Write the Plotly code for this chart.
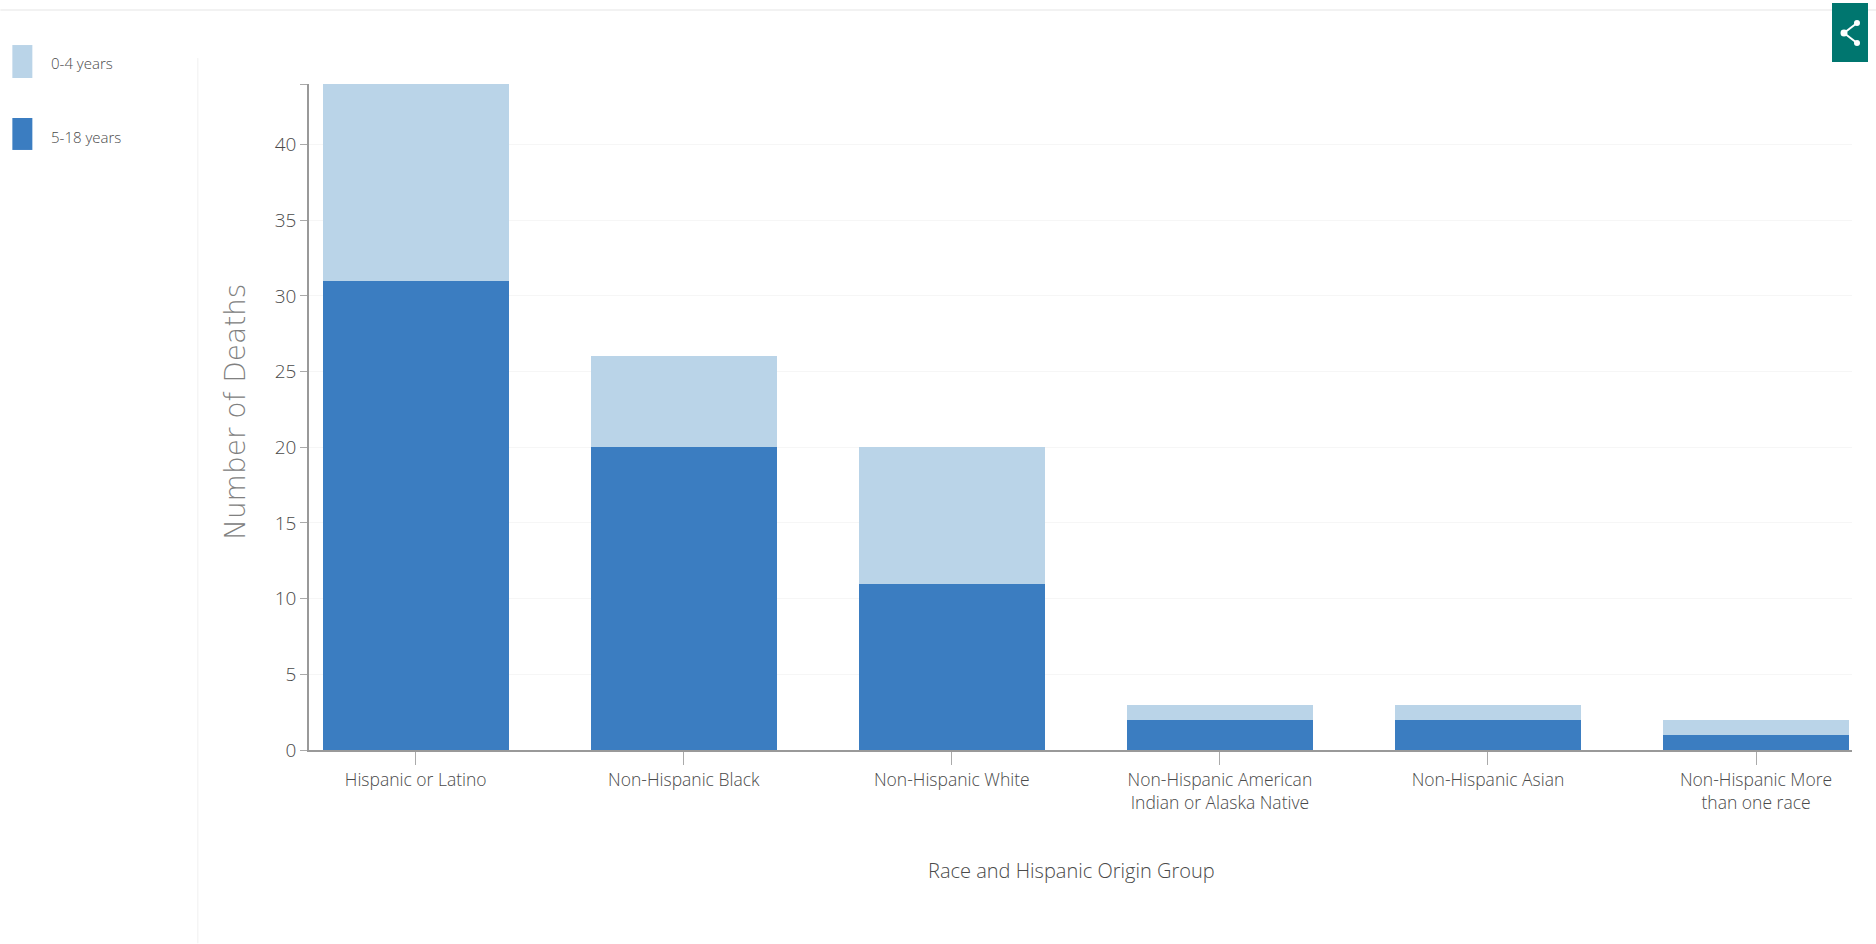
import plotly.graph_objects as go

categories = ["Hispanic or Latino", "Non-Hispanic Black", "Non-Hispanic White",
              "Non-Hispanic American<br>Indian or Alaska Native", "Non-Hispanic Asian",
              "Non-Hispanic More<br>than one race"]
age_0_4 = [13, 6, 9, 1, 1, 1]
age_5_18 = [31, 20, 11, 2, 2, 1]
y_ticks = [0, 5, 10, 15, 20, 25, 30, 35, 40, 44]
y_labels = ["0", "5", "10", "15", "20", "25", "30", "35", "40", ""]
series_names = ["0-4 years", "5-18 years"]
series_colors = ["#BAD4E8", "#3B7DC1"]

W, H = 1876, 944
L, R, T, B = 308.7, 1852, 84, 750.5
FONT = "Open Sans, sans-serif"
TXT = "#4A4A4A"

def px(x):
    return (x - L) / (R - L)

def py(y):
    return (B - y) / (B - T)

def rect(x0, y0, x1, y1, color):
    return dict(type="rect", xref="paper", yref="paper", x0=px(x0), x1=px(x1), y0=py(y0), y1=py(y1),
                fillcolor=color, line_width=0, layer="above")

def seg(x0, y0, x1, y1, color, w=1):
    return dict(type="line", xref="paper", yref="paper", x0=px(x0), x1=px(x1), y0=py(y0), y1=py(y1),
                line=dict(color=color, width=w), layer="above")

def dot(cx, cy, r, color):
    return dict(type="circle", xref="paper", yref="paper", x0=px(cx - r), x1=px(cx + r), y0=py(cy - r), y1=py(cy + r),
                fillcolor=color, line_width=0, layer="above")

fig = go.Figure()
fig.add_bar(x=categories, y=age_5_18, name=series_names[1], marker=dict(color=series_colors[1], line_width=0))
fig.add_bar(x=categories, y=age_0_4, name=series_names[0], marker=dict(color=series_colors[0], line_width=0))

shapes = [
    seg(0, 10, W, 10, "#EEEEEE", 1.5),
    seg(197.5, 58, 197.5, H, "#F0F0F0", 1),
    rect(12, 45, 32, 78, series_colors[0]),
    rect(12, 118, 32, 150, series_colors[1]),
    rect(1832, 3, 1868, 62, "#00766F"),
    seg(1857, 23, 1844, 33, "#FFFFFF", 2),
    seg(1844, 33, 1857, 43, "#FFFFFF", 2),
    dot(1857, 23, 3, "#FFFFFF"),
    dot(1844, 33, 3.5, "#FFFFFF"),
    dot(1857, 43, 3, "#FFFFFF"),
]
annotations = [
    dict(text=series_names[0], xref="paper", yref="paper", x=px(49), y=py(63), xanchor="left", yanchor="middle",
         showarrow=False, font=dict(family=FONT, size=15, color=TXT, weight=300)),
    dict(text=series_names[1], xref="paper", yref="paper", x=px(49), y=py(137), xanchor="left", yanchor="middle",
         showarrow=False, font=dict(family=FONT, size=15, color=TXT, weight=300)),
    dict(text="Race and Hispanic Origin Group", xref="paper", yref="paper", x=px(1071), y=py(871), xanchor="center",
         yanchor="middle", showarrow=False, font=dict(family=FONT, size=20, color=TXT, weight=300)),
    dict(text="Number of Deaths", xref="paper", yref="paper", x=px(235), y=py(412), xanchor="center", yanchor="middle",
         textangle=-90, showarrow=False, font=dict(family="DejaVu Sans, sans-serif", size=28, color="#808080", weight=300)),
]

fig.update_layout(
    width=W, height=H, barmode="stack", bargap=0.307, showlegend=False,
    paper_bgcolor="#FFFFFF", plot_bgcolor="#FFFFFF",
    margin=dict(l=L, r=W - R, t=T, b=H - B, autoexpand=False),
    font=dict(family=FONT, color=TXT, size=17),
    shapes=shapes, annotations=annotations,
    xaxis=dict(type="category", categoryorder="array", categoryarray=categories, range=[-0.398, 5.358],
               showgrid=False, showline=True, linecolor="#999999", linewidth=1.5,
               ticks="outside", ticklen=13, tickcolor="#AAAAAA", tickwidth=1,
               tickfont=dict(family=FONT, size=17.5, color=TXT, weight=300), tickangle=0, automargin=False),
    yaxis=dict(range=[0, 44], tickvals=y_ticks, ticktext=y_labels,
               showgrid=True, gridcolor="#F6F6F6", gridwidth=1, zeroline=False,
               showline=True, linecolor="#999999", linewidth=1.5,
               ticks="outside", ticklen=7, tickcolor="#AAAAAA", tickwidth=1,
               tickfont=dict(family=FONT, size=19, color=TXT, weight=300), automargin=False),
)
fig.write_html("out.html", config=dict(displayModeBar=False), post_script="document.body.style.margin='0';")
